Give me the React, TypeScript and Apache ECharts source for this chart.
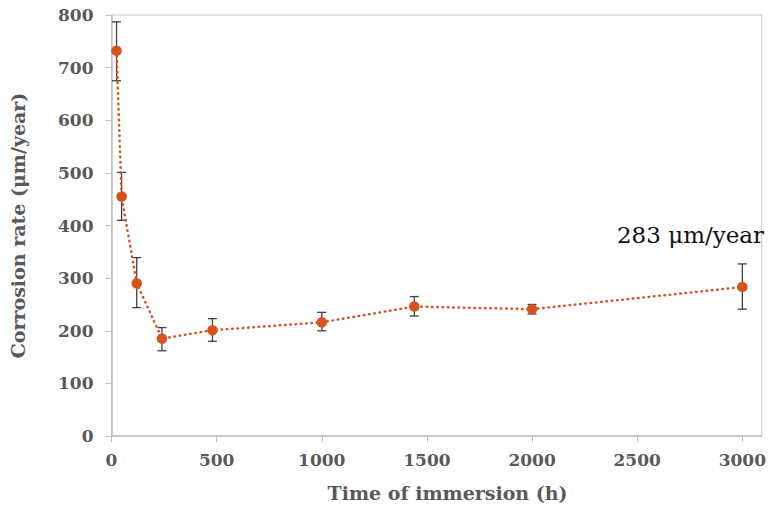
import React, { useEffect, useRef } from "react";
import * as echarts from "echarts";

const hours = [24, 48, 120, 240, 480, 1000, 1440, 2000, 3000];
const rates = [732, 455, 290, 185, 201, 216, 246, 241, 283];
const errLow = [675, 410, 244, 162, 180, 200, 228, 232, 241];
const errHigh = [787, 501, 339, 206, 223, 235, 265, 250, 327];
const annotation = "283 μm/year";
const xTitle = "Time of immersion (h)";
const yTitle = "Corrosion rate (μm/year)";

const FONT = "'DejaVu Serif', 'Liberation Serif', serif";
const ORANGE = "#D7521D";

export default function App() {
  const ref = useRef<HTMLDivElement>(null);
  useEffect(() => {
    if (!ref.current) return;
    const chart = echarts.init(ref.current, undefined, { renderer: "svg" });
    const lineData = hours.map((h, i) => [h, rates[i]]);
    const errData = hours.map((h, i) => [h, errLow[i], errHigh[i]]);
    chart.setOption({
      animation: false,
      backgroundColor: "#ffffff",
      grid: {
        left: 111.5,
        right: 1.5,
        top: 15,
        bottom: 76,
        show: true,
        borderColor: "#C8C8C8",
        borderWidth: 1,
      },
      xAxis: {
        type: "value",
        min: 0,
        max: 3092,
        interval: 500,
        name: xTitle,
        nameLocation: "middle",
        nameGap: 47,
        nameTextStyle: {
          fontFamily: FONT,
          fontWeight: "bold",
          fontSize: 19,
          color: "#595959",
          padding: [0, 0, 0, 22],
        },
        axisLine: { show: true, lineStyle: { color: "#BFBFBF", width: 1.5 } },
        axisTick: { show: true, length: 6, lineStyle: { color: "#BFBFBF" } },
        axisLabel: {
          margin: 15,
          fontFamily: FONT,
          fontWeight: "bold",
          fontSize: 17,
          color: "#595959",
          showMaxLabel: false,
          formatter: (v: number) => (v % 500 === 0 ? String(v) : ""),
        },
        splitLine: { show: false },
      },
      yAxis: {
        type: "value",
        min: 0,
        max: 800,
        interval: 100,
        name: yTitle,
        nameLocation: "middle",
        nameGap: 84,
        nameRotate: 90,
        nameTextStyle: { fontFamily: FONT, fontWeight: "bold", fontSize: 19, color: "#595959" },
        axisLine: { show: true, lineStyle: { color: "#BFBFBF", width: 1.5 } },
        axisTick: { show: true, length: 6, lineStyle: { color: "#BFBFBF" } },
        axisLabel: {
          margin: 18,
          fontFamily: FONT,
          fontWeight: "bold",
          fontSize: 17,
          color: "#595959",
        },
        splitLine: { show: false },
      },
      series: [
        {
          type: "custom",
          z: 1,
          data: errData,
          encode: { x: 0, y: [1, 2] },
          renderItem: (params: any, api: any) => {
            const x = api.value(0);
            const lo = api.coord([x, api.value(1)]);
            const hi = api.coord([x, api.value(2)]);
            const w = 4.5;
            const style = { stroke: "#404040", lineWidth: 1.3 };
            return {
              type: "group",
              children: [
                { type: "line", shape: { x1: hi[0], y1: hi[1], x2: lo[0], y2: lo[1] }, style },
                { type: "line", shape: { x1: hi[0] - w, y1: hi[1], x2: hi[0] + w, y2: hi[1] }, style },
                { type: "line", shape: { x1: lo[0] - w, y1: lo[1], x2: lo[0] + w, y2: lo[1] }, style },
              ],
            };
          },
        },
        {
          type: "line",
          z: 3,
          data: lineData,
          symbol: "circle",
          symbolSize: 10.5,
          itemStyle: { color: ORANGE },
          lineStyle: { color: ORANGE, width: 2.5, type: [0.5, 4.8], cap: "round" },
        },
      ],
      graphic: [
        {
          type: "text",
          right: 5,
          top: 223,
          style: {
            text: annotation,
            fontFamily: FONT,
            fontSize: 23,
            fill: "#111111",
          },
        },
      ],
    });
    return () => chart.dispose();
  }, []);
  return (
    <div
      ref={ref}
      style={{ position: "absolute", left: 0, top: 0, width: 769, height: 512 }}
    />
  );
}
